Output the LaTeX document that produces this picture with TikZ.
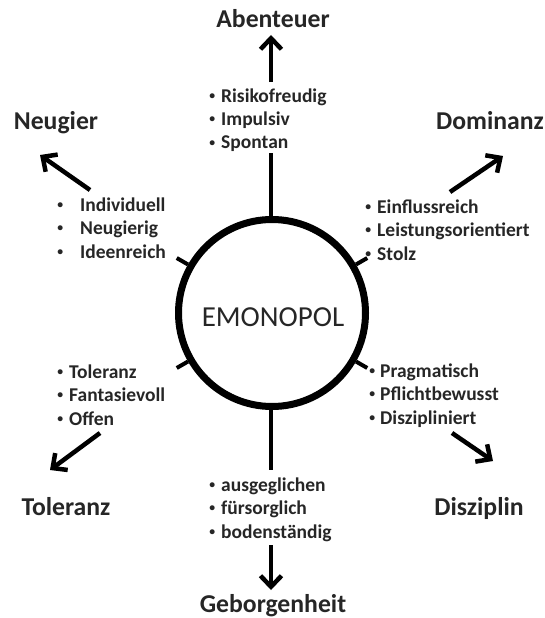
\documentclass[tikz,border=0pt]{standalone}
\usepackage{fontspec}
\usepackage{graphicx}
\setmainfont{Carlito}
\usetikzlibrary{arrows.meta,calc}
\definecolor{ink}{HTML}{262626}
% small bullet, centred in a fixed 10pt column
\newcommand{\dotmark}{\makebox[10pt][c]{\raisebox{0.14em}{\scalebox{0.6}{\textbullet}}}}
\newcommand{\traits}[2]{\begin{tabular}[t]{@{}l@{\hspace{#1}}l@{}}#2\end{tabular}}
\begin{document}
\begin{tikzpicture}[x=1pt,y=-1pt,
  title/.style={font=\fontsize{25.7}{30}\selectfont\bfseries, text=ink, inner sep=0pt, anchor=base},
  traitlist/.style={font=\fontsize{19.5}{23.5}\selectfont\bfseries, text=ink, inner sep=0pt, anchor=base west},
  pointer/.style={line width=4.5pt, -{Straight Barb[length=11pt,width=21pt]}},
  spoke/.style={line width=4pt},
]
\useasboundingbox (0,0) rectangle (544,618);

% central circle
\node[circle, draw, line width=7pt, minimum size=187pt, inner sep=0pt] (core) at (272,313) {};
\node[font=\fontsize{29}{34}\selectfont, text=ink, anchor=base] (corelabel) at (273,326) {EMONOPOL};

% titles
\node[title] (abenteuer) at (273,28) {Abenteuer};
\node[title] (neugier) at (56,129) {Neugier};
\node[title] (dominanz) at (490,129) {Dominanz};
\node[title] (toleranz) at (66,515) {Toleranz};
\node[title] (disziplin) at (479,515) {Disziplin};
\node[title] (geborgenheit) at (273,612) {Geborgenheit};

% trait lists
\node[traitlist] (ltop) at (207,102) {\traits{4pt}{\dotmark & Risikofreudig\\ \dotmark & Impulsiv\\ \dotmark & Spontan}};
\node[traitlist] (lnw) at (55,211) {\traits{15pt}{\dotmark & Individuell\\ \dotmark & Neugierig\\ \dotmark & Ideenreich}};
\node[traitlist] (lne) at (363,213) {\traits{4pt}{\dotmark & Einflussreich\\ \dotmark & Leistungsorientiert\\ \dotmark & Stolz}};
\node[traitlist] (lsw) at (55,378) {\traits{4pt}{\dotmark & Toleranz\\ \dotmark & Fantasievoll\\ \dotmark & Offen}};
\node[traitlist] (lse) at (367,377) {\traits{3pt}{\dotmark & Pragmatisch\\ \dotmark & Pflichtbewusst\\ \dotmark & Diszipliniert}};
\node[traitlist] (lbot) at (207,491) {\traits{4pt}{\dotmark & ausgeglichen\\ \dotmark & fürsorglich\\ \dotmark & bodenständig}};

% spokes leaving the circle
\coordinate (topend) at (271,153);
\coordinate (botend) at (271,470);
\draw[spoke] (core.north -| topend) -- (topend);
\draw[spoke] (core.south -| botend) -- (botend);
\foreach \a in {30,150,210,330}
  \draw[spoke] (core.\a) -- ($(core.center)!110pt!(core.\a)$);

% arrows towards the titles
\coordinate (topgo) at (271,82);   \coordinate (toptip) at (271,35);
\coordinate (nwgo) at (90,190);    \coordinate (nwtip) at (40,155);
\coordinate (nego) at (450,192);   \coordinate (netip) at (503,156);
\coordinate (swgo) at (100,433);   \coordinate (swtip) at (50,470);
\coordinate (sego) at (452,433);   \coordinate (setip) at (493,461);
\coordinate (botgo) at (271,545);  \coordinate (bottip) at (271,590);
\draw[pointer] (topgo) -- (toptip);
\draw[pointer] (nwgo) -- (nwtip);
\draw[pointer] (nego) -- (netip);
\draw[pointer] (swgo) -- (swtip);
\draw[pointer] (sego) -- (setip);
\draw[pointer] (botgo) -- (bottip);
\end{tikzpicture}
\end{document}
